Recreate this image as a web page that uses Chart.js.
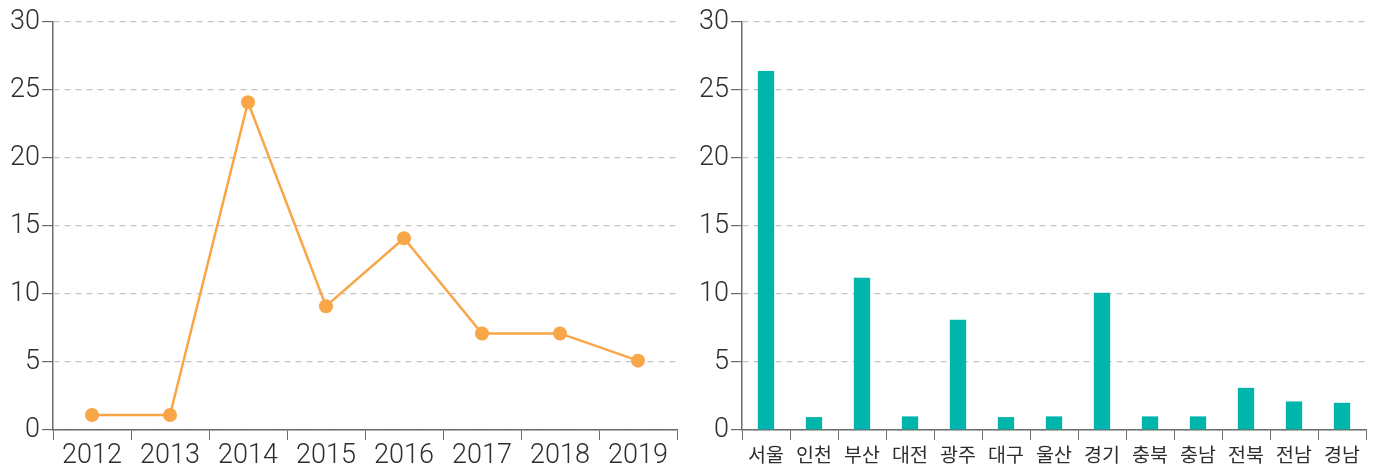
<!DOCTYPE html>
<html>
<head>
<meta charset="utf-8">
<script src="https://cdn.jsdelivr.net/npm/chart.js@4"></script>
<style>
  body { margin: 0; background: #fff; }
  .wrap { display: flex; width: 1377px; height: 464px; }
  canvas { display: block; }
</style>
</head>
<body>
<div class="wrap">
  <canvas id="yearChart" width="690" height="464"></canvas>
  <canvas id="regionChart" width="687" height="464"></canvas>
</div>
<script>
  // data
  const years = ['2012', '2013', '2014', '2015', '2016', '2017', '2018', '2019'];
  const yearValues = [1.1, 1.1, 24.1, 9.1, 14.1, 7.1, 7.1, 5.1];

  const regions = ['서울', '인천', '부산', '대전', '광주', '대구', '울산', '경기', '충북', '충남', '전북', '전남', '경남'];
  const regionValues = [26.4, 0.95, 11.2, 1.0, 8.1, 0.95, 1.0, 10.1, 1.0, 1.0, 3.1, 2.1, 2.0];

  const yTicks = [0, 5, 10, 15, 20, 25, 30];

  const orange = 'rgb(248, 166, 72)';
  const teal = 'rgb(0, 181, 171)';
  const axisColor = '#6b6b6b';
  const gridColor = '#c4c4c4';
  const textColor = '#2e2e2e';

  Chart.defaults.animation = false;
  Chart.defaults.font.family = "Roboto, 'Noto Sans CJK KR', sans-serif";
  Chart.defaults.font.weight = 300;

  function makeScales(yWidth, labelFont, labelPad) {
    return {
      x: {
        offset: true,
        grid: {
          offset: true,
          drawOnChartArea: false,
          tickLength: 10,
          tickColor: axisColor,
          color: axisColor
        },
        border: { color: axisColor, width: 1.5 },
        ticks: {
          color: textColor,
          padding: labelPad,
          maxRotation: 0,
          autoSkip: false,
          font: labelFont
        },
        afterFit: function(scale) { scale.height = 34; }
      },
      y: {
        min: 0,
        max: 30,
        afterBuildTicks: function(scale) {
          scale.ticks = yTicks.map(v => ({ value: v }));
        },
        grid: {
          color: gridColor,
          tickColor: axisColor,
          tickLength: 11,
          lineWidth: 1.2
        },
        border: { color: axisColor, width: 1.5, dash: [6, 5] },
        ticks: {
          color: textColor,
          padding: 2,
          font: { size: 27, weight: 300 }
        },
        afterFit: function(scale) { scale.width = yWidth; }
      }
    };
  }

  new Chart(document.getElementById('yearChart'), {
    type: 'line',
    data: {
      labels: years,
      datasets: [{
        data: yearValues,
        borderColor: orange,
        backgroundColor: orange,
        borderWidth: 2.5,
        pointRadius: 7,
        pointBorderWidth: 0,
        pointBackgroundColor: orange,
        tension: 0
      }]
    },
    options: {
      responsive: false,
      plugins: { legend: { display: false }, tooltip: { enabled: false } },
      layout: { padding: { top: 22, right: 13, left: 0, bottom: 0 } },
      scales: makeScales(53, { size: 27, weight: 300 }, 0)
    }
  });

  new Chart(document.getElementById('regionChart'), {
    type: 'bar',
    data: {
      labels: regions,
      datasets: [{
        data: regionValues,
        backgroundColor: teal,
        categoryPercentage: 1,
        barPercentage: 0.34
      }]
    },
    options: {
      responsive: false,
      plugins: { legend: { display: false }, tooltip: { enabled: false } },
      layout: { padding: { top: 22, right: 11, left: 0, bottom: 0 } },
      scales: makeScales(52, { size: 19.5, weight: 400, family: "'Noto Sans CJK KR', sans-serif" }, 3)
    }
  });
</script>
</body>
</html>
